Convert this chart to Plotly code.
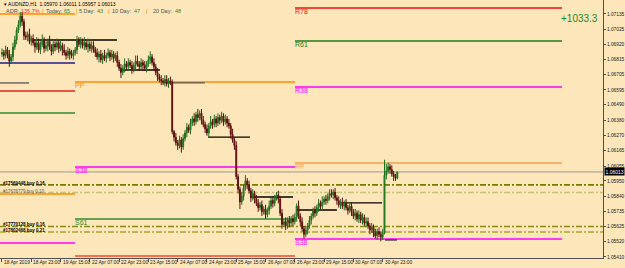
import plotly.graph_objects as go

# ---------------- data ----------------
first_open = 1.0685
closes = [
    1.0686, 1.0684, 1.0688, 1.0685, 1.0680, 1.0683,
    1.0690, 1.0695, 1.0702, 1.0706,
    1.0712, 1.0708, 1.0698,
    1.0697, 1.0699, 1.0694, 1.0696, 1.0693,
    1.0690, 1.0693, 1.0688, 1.0692, 1.0695, 1.0689, 1.0691, 1.0694, 1.0690, 1.0687,
    1.0692, 1.0690, 1.0693, 1.0689, 1.0691, 1.0688, 1.0686, 1.0684, 1.0687, 1.0685,
    1.0684, 1.0686,
    1.0688,
    1.0695, 1.0692, 1.0694, 1.0691, 1.0693, 1.0690, 1.0692, 1.0689, 1.0691, 1.0688,
    1.0686, 1.0683, 1.0685, 1.0681, 1.0684, 1.0682,
    1.0684, 1.0686, 1.0683, 1.0685, 1.0682, 1.0684,
    1.0679, 1.0675, 1.0672,
    1.0675, 1.0678, 1.0676, 1.0679, 1.0677, 1.0674, 1.0677, 1.0680, 1.0678, 1.0676,
    1.0679, 1.0677, 1.0675, 1.0678, 1.0681, 1.0683, 1.0679, 1.0676,
    1.0672, 1.0669, 1.0667, 1.0666,
    1.0665, 1.0667, 1.0664, 1.0666, 1.0665,
    1.0630,
    1.0626, 1.0622, 1.0620, 1.0624, 1.0619,
    1.0625, 1.0629, 1.0633, 1.0631, 1.0636, 1.0639, 1.0637, 1.0642,
    1.0640, 1.0643, 1.0638, 1.0635, 1.0632, 1.0629, 1.0634, 1.0637, 1.0635, 1.0639,
    1.0636, 1.0640, 1.0638, 1.0641, 1.0637, 1.0639, 1.0636, 1.0634,
    1.0628, 1.0624, 1.0620,
    1.0598, 1.0589, 1.0580,
    1.0584, 1.0590, 1.0595, 1.0592, 1.0588, 1.0583, 1.0586,
    1.0582, 1.0579, 1.0576, 1.0578, 1.0573, 1.0575, 1.0571, 1.0574,
    1.0577, 1.0581, 1.0579, 1.0583, 1.0585, 1.0582,
    1.0572, 1.0564,
    1.0566, 1.0563, 1.0567, 1.0565, 1.0568, 1.0566, 1.0569,
    1.0577,
    1.0570, 1.0566, 1.0561, 1.0557, 1.0560,
    1.0563, 1.0567, 1.0570, 1.0574, 1.0572, 1.0576, 1.0579, 1.0577, 1.0580,
    1.0582, 1.0581, 1.0584, 1.0586, 1.0585, 1.0587,
    1.0583, 1.0581, 1.0578, 1.0580, 1.0577, 1.0579,
    1.0576, 1.0574, 1.0577, 1.0573, 1.0570, 1.0572, 1.0568, 1.0571, 1.0567, 1.0569,
    1.0565, 1.0566, 1.0563,
    1.0560, 1.0562, 1.0558, 1.0556, 1.0559, 1.0557, 1.0555, 1.0558,
    1.0599,
    1.0602, 1.0605, 1.0603, 1.0600, 1.0598, 1.0597, 1.06013,
]
upper_wick_pips = [
    3, 2, 3, 2, 3, 2, 3, 3, 2, 3,
    3, 3, 2, 3, 2, 4, 2, 3, 2, 4,
    3, 2, 4, 2, 3, 2, 4, 2, 3, 2,
    3, 2, 4, 2, 4, 2, 3, 2, 3, 2,
    2, 3, 2, 3, 2, 4, 2, 4, 2, 3,
    3, 2, 3, 2, 3, 2, 4, 2, 3, 2,
    3, 2, 2, 3, 2, 3, 2, 4, 2, 3,
    2, 3, 2, 4, 4, 2, 3, 2, 3, 2,
    3, 4, 2, 3, 2, 3, 2, 3, 2, 3,
    3, 2, 3, 2, 1, 3, 2, 3, 2, 3,
    2, 3, 2, 3, 2, 4, 2, 4, 2, 3,
    3, 2, 3, 2, 4, 2, 3, 2, 3, 2,
    3, 2, 3, 2, 3, 2, 4, 2, 3, 2,
    2, 3, 2, 4, 2, 3, 2, 3, 2, 3,
    3, 2, 3, 2, 3, 2, 4, 2, 3, 2,
    2, 3, 2, 3, 2, 3, 2, 3, 2, 3,
    3, 2, 4, 2, 3, 2, 3, 2, 3, 2,
    2, 3, 2, 3, 2, 4, 2, 3, 2, 3,
    3, 2, 3, 2, 3, 2, 3, 2, 3, 2,
    2, 3, 2, 3, 2, 3, 2, 3, 2, 3,
    3, 2, 3, 2, 3, 2, 3, 2, 3, 11,
    5, 3, 2, 3, 2, 2, 0,
]
lower_wick_pips = [
    2, 3, 2, 3, 4, 2, 3, 2, 3, 2,
    2, 3, 3, 2, 3, 2, 3, 2, 4, 2,
    2, 3, 2, 3, 2, 4, 2, 3, 2, 3,
    2, 3, 2, 4, 2, 3, 2, 4, 2, 3,
    2, 3, 2, 3, 2, 3, 2, 4, 2, 3,
    2, 3, 2, 4, 2, 3, 2, 3, 2, 3,
    2, 3, 2, 3, 2, 4, 2, 3, 2, 3,
    2, 3, 2, 3, 2, 3, 2, 4, 2, 3,
    2, 3, 2, 3, 2, 3, 2, 3, 2, 3,
    2, 3, 2, 2, 3, 2, 3, 2, 4, 2,
    2, 3, 2, 3, 2, 3, 2, 3, 2, 3,
    2, 3, 2, 3, 2, 3, 2, 3, 2, 3,
    2, 3, 2, 3, 2, 3, 2, 3, 2, 3,
    5, 2, 3, 2, 3, 2, 3, 2, 3, 2,
    3, 2, 3, 2, 3, 2, 3, 2, 3, 2,
    2, 3, 2, 3, 2, 3, 2, 3, 2, 3,
    2, 3, 2, 3, 2, 3, 2, 3, 2, 3,
    2, 3, 2, 3, 2, 3, 2, 3, 2, 3,
    2, 3, 2, 3, 2, 3, 2, 3, 2, 3,
    2, 3, 2, 3, 2, 3, 2, 3, 2, 3,
    2, 3, 2, 3, 2, 3, 2, 3, 2, 1,
    3, 2, 3, 2, 3, 2, 1,
]
x_tick_bars = [0, 16, 32, 48, 64, 80, 96, 112, 128, 144, 160, 176, 192, 208]
x_tick_labels = ["18 Apr 2019", "18 Apr 23:00", "19 Apr 15:00", "22 Apr 07:00",
                 "22 Apr 23:00", "23 Apr 15:00", "24 Apr 07:00", "24 Apr 23:00",
                 "25 Apr 15:00", "26 Apr 07:00", "26 Apr 23:00", "29 Apr 15:00",
                 "30 Apr 07:00", "30 Apr 23:00"]
y_tick_values = [1.07135, 1.07025, 1.06920, 1.06815, 1.06705, 1.06595, 1.06490,
                 1.06380, 1.06270, 1.06165, 1.06055, 1.05950, 1.05840, 1.05735,
                 1.05625, 1.05520, 1.05410]
current_price = 1.06013

# weekly pivot levels: (label, price, colour)
prev_week_levels = [("", 1.07135, "#FF8C00"), ("", 1.06787, "#1E1E8C"),
                    ("", 1.06588, "#E02020"), ("", 1.06432, "#2E8B2E"),
                    ("", 1.05857, "#FF8C00"), ("", 1.05509, "#FF00FF")]
this_week_levels = [("PP", 1.06652, "#FF8C00"), ("S38", 1.06049, "#FF00FF"),
                    ("S61", 1.05679, "#2E8B2E"), ("", 1.05416, "#FF4020")]
next_week_levels = [("R78", 1.07177, "#F01010"), ("R61", 1.06943, "#1E7B1E"),
                    ("R38", 1.06616, "#FF00FF"), ("PP", 1.06077, "#F5A050"),
                    ("S38", 1.05537, "#FF00FF")]
week_spans = [(-1.1, 39.9), (39.9, 160.1), (160.1, 306.0)]

# daily reference segments: (start bar, end bar, price, colour)
day_segments = [(-1.1, 14.8, 1.06645, "#555555"), (16.9, 62.8, 1.06950, "#000000"),
                (64.5, 86.3, 1.06737, "#000000"), (88.0, 110.9, 1.06645, "#555555"),
                (112.6, 135.5, 1.06261, "#000000"), (135.5, 159.0, 1.05835, "#000000"),
                (161.2, 183.0, 1.05743, "#000000"), (186.3, 207.7, 1.05793, "#000000"),
                (209.3, 215.8, 1.05530, "#333333")]

order_prices = [1.05921, 1.05867, 1.05626, 1.05587]
order_labels = ["#17569448 buy 0.16", "#17676779 buy 0.10",
                "#17770128 buy 0.16", "#17802468 buy 0.21"]
order_colors = ["#7A7A00", "#C8C27A", "#8A8A10", "#A8A830"]
profit_text = "+1033.3"

# ---------------- build ----------------
pip = 0.0001
n = len(closes)
bars = list(range(n))
opens = [first_open] + closes[:-1]
highs = [max(o, c) + u * pip for o, c, u in zip(opens, closes, upper_wick_pips)]
lows = [min(o, c) - l * pip for o, c, l in zip(opens, closes, lower_wick_pips)]

W, H = 625, 268
ML, MR, MT, MB = 0, 22, 0, 10
PW, PH = W - ML - MR, H - MT - MB
X_RANGE = [-1.09, 328.4]
Y_RANGE = [1.05402, 1.07234]
BG = "#FDE6BA"
FONT = "Liberation Sans"

fig = go.Figure()
shapes = []
annotations = []


def hline(x0, x1, y, color, width=1.5, dash="solid"):
    shapes.append(dict(type="line", xref="x", yref="y", x0=x0, x1=x1, y0=y, y1=y,
                       line=dict(color=color, width=width, dash=dash), layer="below"))


for (x0, x1), levels in zip(week_spans, [prev_week_levels, this_week_levels, next_week_levels]):
    for label, price, color in levels:
        hline(x0, x1, price, color, 1.5)
        if label:
            annotations.append(dict(x=x0, y=price, xref="x", yref="y", text=label,
                                    showarrow=False, xanchor="left", yanchor="top",
                                    yshift=1, xshift=-1, borderpad=0,
                                    font=dict(family=FONT, size=7, color=color)))

for x0, x1, price, color in day_segments:
    hline(x0, x1, price, color, 1.3)

# current price line
shapes.append(dict(type="line", xref="paper", yref="y", x0=0, x1=1, y0=current_price,
                   y1=current_price, line=dict(color="#9A9A9A", width=1), layer="below"))

for price, label, color in zip(order_prices, order_labels, order_colors):
    shapes.append(dict(type="line", xref="paper", yref="y", x0=0, x1=1, y0=price, y1=price,
                       line=dict(color=color, width=1.6, dash="6px,2px,2px,2px"), layer="below"))
    bold = color != "#C8C27A"
    annotations.append(dict(x=2 / PW, y=price, xref="paper", yref="y",
                            text=("<b>%s</b>" % label) if bold else label,
                            showarrow=False, xanchor="left", yanchor="bottom", yshift=-2,
                            borderpad=0,
                            font=dict(family=FONT, size=4.5,
                                      color="#000000" if bold else "#555555")))

fig.add_trace(go.Candlestick(
    x=bars, open=opens, high=highs, low=lows, close=closes,
    increasing=dict(line=dict(color="#1F6F1F", width=1), fillcolor="#2FA02F"),
    decreasing=dict(line=dict(color="#5A1010", width=1), fillcolor="#8B1A1A"),
    whiskerwidth=0, showlegend=False, hoverinfo="skip"))


def paper_xy(px, py):
    return (px - ML) / PW, 1 - (py - MT) / PH


# header lines
hx, hy = paper_xy(3, 4)
annotations.append(dict(x=hx, y=hy, xref="paper", yref="paper",
                        text="▾ AUDNZD,H1  1.05970 1.06011 1.05957 1.06013",
                        showarrow=False, xanchor="left", yanchor="middle", borderpad=0,
                        font=dict(family=FONT, size=5, color="#000000")))

adr_parts = [("ADR:", 5, "#505050"), ("135.7%", 20, "#E83030"), ("|", 41, "#E08000"),
             ("Today:", 45, "#505050"), ("65", 63, "#2E8B2E"), ("|", 75, "#E08000"),
             ("5 Day:", 78, "#505050"), ("43", 96, "#2E8B2E"), ("|", 107, "#E08000"),
             ("10 Day:", 111, "#505050"), ("47", 133, "#2E8B2E"), ("|", 145, "#E08000"),
             ("20 Day:", 152, "#505050"), ("48", 174, "#2E8B2E")]
for txt, px, col in adr_parts:
    ax, ay = paper_xy(px, 11)
    annotations.append(dict(x=ax, y=ay, xref="paper", yref="paper", text=txt,
                            showarrow=False, xanchor="left", yanchor="middle", borderpad=0,
                            font=dict(family=FONT, size=5.5, color=col)))

px_, py_ = paper_xy(579, 18)
annotations.append(dict(x=px_, y=py_, xref="paper", yref="paper", text=profit_text,
                        showarrow=False, xanchor="center", yanchor="middle", borderpad=0,
                        font=dict(family=FONT, size=10, color="#1E8B1E")))

# current price box on the axis
annotations.append(dict(x=1, y=current_price, xref="paper", yref="y",
                        text="1.06013", showarrow=False, xanchor="left", yanchor="middle",
                        xshift=1, bgcolor="#000000", borderpad=0.5,
                        font=dict(family=FONT, size=5, color="#FFFFFF")))

# x tick labels, left-aligned at tick like MT4
for b, lab in zip(x_tick_bars, x_tick_labels):
    annotations.append(dict(x=b, y=0, xref="x", yref="paper", text=lab, showarrow=False,
                            xanchor="left", yanchor="top", yshift=-1, xshift=1, borderpad=0,
                            font=dict(family=FONT, size=4.8, color="#202020")))

fig.update_layout(
    width=W, height=H,
    margin=dict(l=ML, r=MR, t=MT, b=MB, pad=0),
    paper_bgcolor=BG, plot_bgcolor=BG,
    shapes=shapes, annotations=annotations,
    showlegend=False,
    xaxis=dict(range=X_RANGE, type="linear", rangeslider=dict(visible=False),
               showgrid=False, zeroline=False, showline=True, mirror=True,
               linecolor="#505050", linewidth=1, tickvals=x_tick_bars,
               showticklabels=False, ticks="outside", ticklen=3, tickcolor="#505050"),
    yaxis=dict(range=Y_RANGE, side="right", showgrid=False, zeroline=False,
               showline=True, mirror=True, linecolor="#505050", linewidth=1,
               tickvals=y_tick_values, tickformat=".5f", ticks="outside", ticklen=2,
               tickcolor="#505050", tickfont=dict(family=FONT, size=4.8, color="#202020")),
)

fig.write_html("out.html")
